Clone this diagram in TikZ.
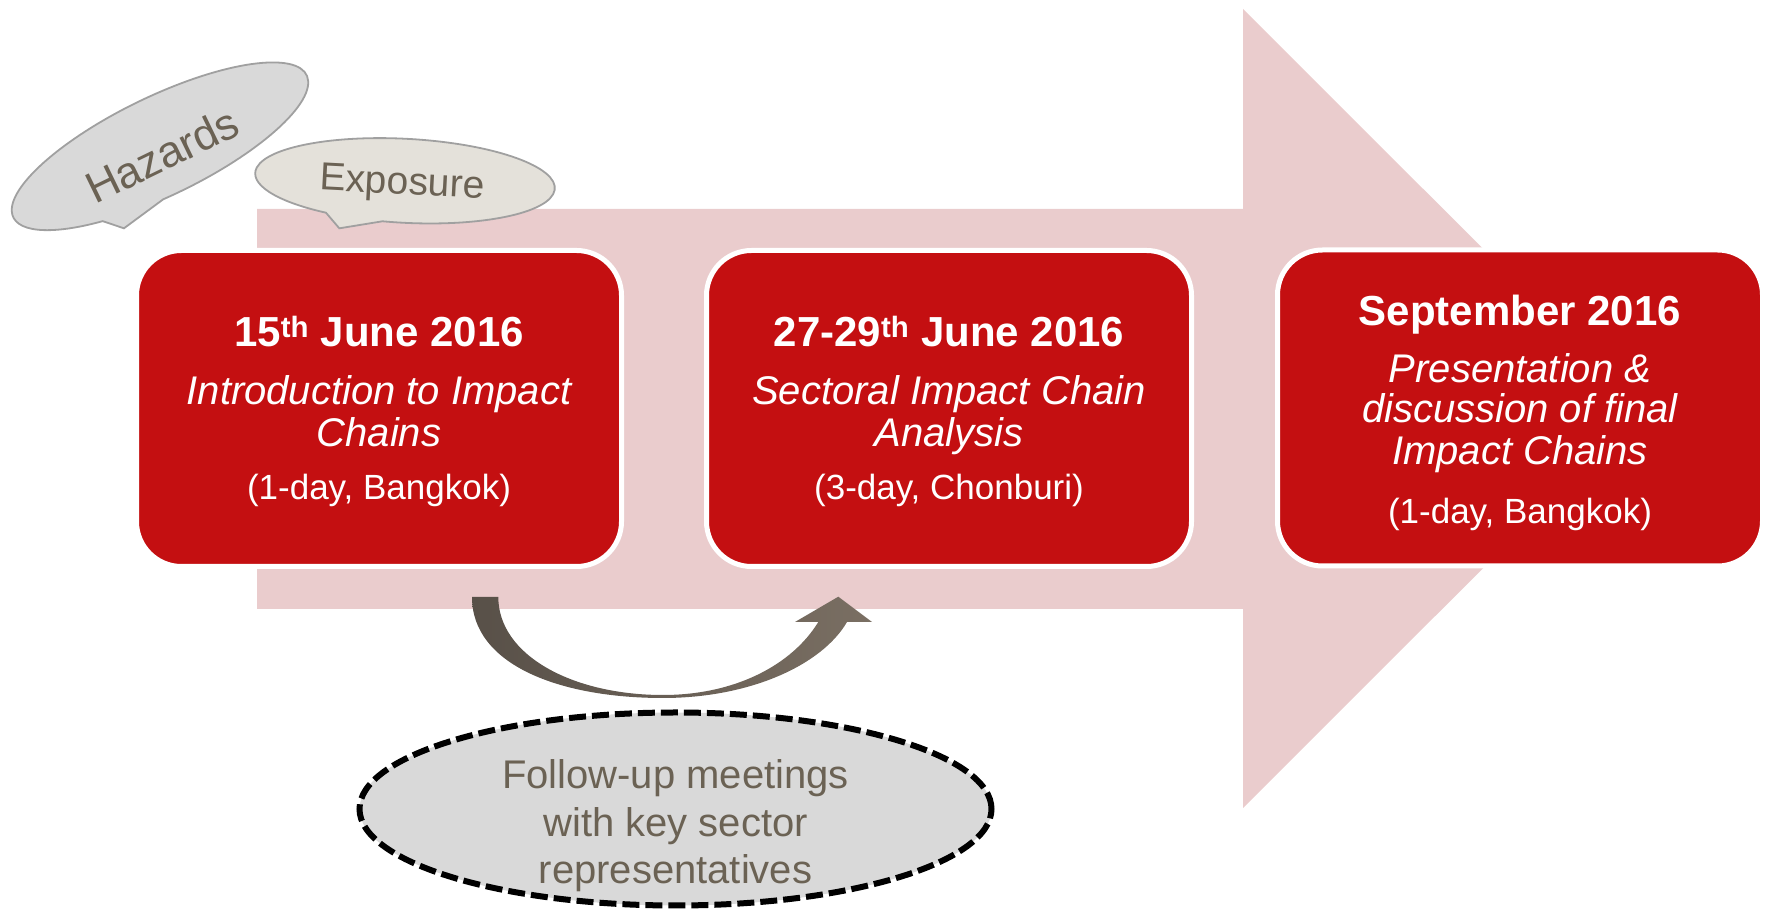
\documentclass[tikz,border=0pt]{standalone}
\usepackage{fontspec}
\setmainfont{Liberation Sans}
\usetikzlibrary{shapes.geometric}
\definecolor{arrowpink}{RGB}{234,204,205}
\definecolor{boxred}{RGB}{196,15,17}
\definecolor{bubgray}{RGB}{217,217,217}
\definecolor{bubbeige}{RGB}{228,225,218}
\definecolor{bubline}{RGB}{160,160,160}
\definecolor{taupe}{RGB}{107,98,84}
\definecolor{darkt}{RGB}{88,80,72}
\definecolor{lightt}{RGB}{122,111,99}
\begin{document}
\begin{tikzpicture}[x=1pt,y=1pt,
  stagebox/.style={draw=white, line width=5pt, fill=boxred, rounded corners=45pt, minimum width=485pt, minimum height=316pt, inner sep=0pt},
  titletext/.style={text=white, font=\fontsize{42}{46}\selectfont\bfseries, anchor=base, inner sep=0pt},
  italtext/.style={text=white, font=\fontsize{40}{44}\selectfont\itshape, anchor=base, inner sep=0pt},
  paretext/.style={text=white, font=\fontsize{35}{40}\selectfont, anchor=base, inner sep=0pt},
  bubble/.style={draw=bubline, line width=1.8pt},
  bubtext/.style={text=taupe, inner sep=0pt},
  futext/.style={text=taupe, font=\fontsize{40}{46}\selectfont, anchor=base, inner sep=0pt},
]
\useasboundingbox (0,0) rectangle (1765,910);
% big arrow
\fill[arrowpink] (257,301) -- (257,701) -- (1243,701) -- (1243,901) -- (1643,501.5) -- (1243,102) -- (1243,301) -- cycle;

% Hazards bubble
\begin{scope}[shift={(160,763.7)}, rotate=25.85]
\filldraw[bubble, fill=bubgray] (262.9:163 and 49.5) arc[start angle=262.9, end angle=598.9, x radius=163, y radius=49.5] -- (-68.2,-58.1) -- cycle;
\node[bubtext, font=\fontsize{44}{48}\selectfont, rotate=25.85] (hz) at (-2,-8.7) {Hazards};
\end{scope}

% Exposure bubble
\begin{scope}[shift={(405,729.2)}, rotate=-3]
\filldraw[bubble, fill=bubbeige] (262.2:150 and 42) arc[start angle=262.2, end angle=599, x radius=150, y radius=42] -- (-63.1,-50.9) -- cycle;
\node[bubtext, font=\fontsize{39}{43}\selectfont, rotate=-3] (ex) at (-2.5,-4.3) {Exposure};
\end{scope}

% stage boxes
\node[stagebox] (b1) at (379,501.5) {};
\node[stagebox] (b2) at (949,501.5) {};
\node[stagebox] (b3) at (1520,502) {};

\node[titletext] (t1) at (379,563) {15\textsuperscript{th} June 2016};
\node[italtext] (i1a) at (379,505) {Introduction to Impact};
\node[italtext] (i1b) at (379,463) {Chains};
\node[paretext] (p1) at (379,410) {(1-day, Bangkok)};

\node[titletext] (t2) at (949,563) {27-29\textsuperscript{th} June 2016};
\node[italtext] (i2a) at (949,505) {Sectoral Impact Chain};
\node[italtext] (i2b) at (949,463) {Analysis};
\node[paretext] (p2) at (949,410) {(3-day, Chonburi)};

\node[titletext] (t3) at (1520,584) {September 2016};
\node[italtext] (i3a) at (1520,527) {Presentation \&};
\node[italtext] (i3b) at (1520,487) {discussion of final};
\node[italtext] (i3c) at (1520,445) {Impact Chains};
\node[paretext] (p3) at (1520,386) {(1-day, Bangkok)};

% curved arrow
\shade[left color=darkt, right color=lightt]
 (472,313) .. controls (472,245) and (560,212) .. (663,212)
 .. controls (750,212) and (822,245) .. (847,288)
 -- (872,288) -- (838.3,313.3) -- (795,288) -- (818.3,288)
 .. controls (792,245) and (735,215) .. (663,215)
 .. controls (572,215) and (498.3,255) .. (498.3,313) -- cycle;

% follow-up ellipse
\node[ellipse, draw=black, line width=6pt, dash pattern=on 17pt off 6pt, fill=bubgray, minimum width=632pt, minimum height=193pt, inner sep=0pt] (fu) at (675.5,101) {};
\node[futext] (f1) at (675.5,121.7) {Follow-up meetings};
\node[futext] (f2) at (675.5,73.3) {with key sector};
\node[futext] (f3) at (675.5,26.7) {representatives};
\end{tikzpicture}
\end{document}
